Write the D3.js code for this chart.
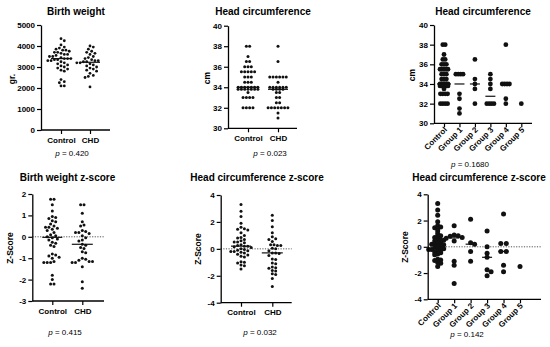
<!DOCTYPE html>
<html><head><meta charset="utf-8">
<script src="https://cdn.jsdelivr.net/npm/d3@7"></script>
<style>body{margin:0;background:#fff}svg{display:block;font-family:"Liberation Sans",Arial,sans-serif}</style>
</head><body><svg id="c" width="550" height="347"></svg>
<script>
// ---------- DATA ----------
const twoCats = ["Control", "CHD"];
const groupCats = ["Control", "Group 1", "Group 2", "Group 3", "Group 4", "Group 5"];

const bwControl = [4350,4250,4050,3950,3900,3850,3800,3800,3750,3700,3700,3650,3600,3600,3550,3500,3500,3450,3400,3400,3400,
  3350,3350,3300,3300,3250,3200,3150,3100,3050,3000,2950,2900,2850,2800,2400,2300,2250,2100,2100];
const bwCHD = [4000,3950,3850,3750,3700,3650,3600,3500,3450,3400,3350,3300,3300,3250,3250,3200,3200,3150,3100,3050,
  3000,2950,2900,2850,2800,2700,2600,2550,2500,2050];

const hcControl = [38,38,37,36.5,36.5,36,36,36,35.5,35.5,35.5,35.5,35.5,35,35,35,34.5,34.5,34.5,
  34,34,34,34,34,34,34,33.8,33.8,33.8,33.8,33.8,33.8,33.8,33.5,33,33,33,33,32,32,32,32];
const hcCHD = [38,36.5,35,35,35,35,35,35,34.5,34,34,34,34,34,34,33.8,33.8,33.8,33.8,33.5,33.5,33,33,
  32.5,32.5,32,32,32,32,32,32,32,31.5,31];
const hcGroup1 = [35,35,35,35,33,32.5,31.5,31];
const hcGroup2 = [36.5,34.5,34,33.5,32];
const hcGroup3 = [35,34.5,34,33.5,32,32,32,32];
const hcGroup4 = [38,34,34,34,34,32.5,32];
const hcGroup5 = [32];

const bwzControl = [1.75,1.75,1.5,1.2,0.95,0.9,0.85,0.75,0.7,0.6,0.5,0.45,0.45,0.4,0.35,0.3,0.2,0.1,0.05,0.0,
  -0.05,-0.1,-0.15,-0.25,-0.3,-0.4,-0.45,-0.8,-0.85,-0.9,-0.95,-1.0,-1.15,-1.2,-1.2,-1.2,-1.8,-2.0,-2.2,-2.2];
const bwzCHD = [1.5,1.5,1.1,0.7,0.55,0.5,0.3,0.25,0.2,0.2,0.15,0.05,-0.05,-0.15,-0.2,-0.35,-0.4,-0.5,-0.55,
  -0.7,-0.75,-1.0,-1.05,-1.1,-1.15,-1.15,-1.2,-1.2,-1.4,-2.1,-2.4];

const hczControl = [3.3,2.8,2.4,1.9,1.6,1.5,1.45,1.4,1.2,1.0,0.85,0.8,0.7,0.6,0.5,0.5,0.45,0.3,0.25,0.2,0.2,
  0.15,0.1,0.0,-0.05,-0.1,-0.15,-0.2,-0.2,-0.25,-0.3,-0.4,-0.45,-0.55,-0.6,-0.95,-1.0,-1.05,-1.2,-1.25,-1.5];
const hczCHD = [2.5,2.1,1.65,1.2,0.9,0.75,0.7,0.55,0.3,0.3,0.25,0.25,0.05,0.0,-0.15,-0.3,-0.3,-0.35,-0.5,
  -0.75,-0.8,-1.05,-1.1,-1.35,-1.4,-1.45,-1.6,-1.65,-1.85,-1.9,-2.2,-2.8];
const hczGroup1 = [1.6,0.9,0.85,0.8,0.7,0.65,0.45,-1.1,-1.4,-2.8];
const hczGroup2 = [2.1,0.3,0.2,-0.35,-1.1];
const hczGroup3 = [1.2,0.0,-0.5,-0.8,-1.75,-1.9,-2.2];
const hczGroup4 = [2.5,0.25,0.25,-0.35,-0.35,-1.4,-1.9];
const hczGroup5 = [-1.5];

const bwTicks = [0,1000,2000,3000,4000,5000];
const hcTicks = [30,32,34,36,38,40];
const bwzTicks = [-3,-2,-1,0,1,2];
const hczTicks = [-4,-2,0,2,4];

// ---------- DRAWING ----------
const svg = d3.select("#c");
const FONT = "Liberation Sans, Arial, sans-serif";

function swarm(vals, y, o) {
  const groups = d3.groups(vals, v => v).sort((a, b) => b[0] - a[0]);
  const placed = [];
  for (const [v, arr] of groups) {
    const n = arr.length, py = y(v);
    const s = n > 1 ? Math.min(o.spacing, o.maxW / (n - 1)) : 0;
    const rel = d3.range(n).map(i => (i - (n - 1) / 2) * s);
    let c = 0;
    for (let k = 0; k < 80; k++) {
      const cand = k === 0 ? 0 : (k % 2 ? 1 : -1) * Math.ceil(k / 2) * o.step;
      const ok = rel.every(r => placed.every(p => {
        const dx = cand + r - p.dx, dy = (py - p.y) * o.ky;
        return dx * dx + dy * dy >= o.d * o.d;
      }));
      if (ok) { c = cand; break; }
    }
    rel.forEach(r => placed.push({ v, y: py, dx: c + r }));
  }
  return placed;
}

function panel(cfg) {
  const g = svg.append("g");
  const y = d3.scaleLinear().domain(cfg.yDomain).range([cfg.yBot, cfg.yTop]);
  const x = d3.scalePoint().domain(cfg.cats).range([cfg.xFirst, cfg.xLast]);

  g.append("text").attr("x", cfg.titleX).attr("y", cfg.titleY).attr("text-anchor", "middle")
    .attr("font-size", 10).attr("font-weight", "bold").text(cfg.title);

  if (cfg.zero) {
    g.append("line").attr("x1", cfg.axisX).attr("x2", cfg.xEnd).attr("y1", y(0)).attr("y2", y(0))
      .attr("stroke", "#555").attr("stroke-width", 1).attr("stroke-dasharray", "1.2,1.4");
  }

  cfg.series.forEach((vals, i) => {
    const cx = x(cfg.cats[i]);
    const sw = (i === 0 && cfg.sw0) ? cfg.sw0 : cfg.sw;
    const pts = swarm(vals, y, sw);
    g.append("g").selectAll("circle").data(pts).join("circle")
      .attr("cx", d => cx + d.dx).attr("cy", d => d.y).attr("r", cfg.r).attr("fill", "#111");
    if (vals.length > 1) {
      const m = d3.median(vals);
      const hw = i === 0 ? cfg.medW0 : cfg.medW;
      g.append("line").attr("x1", cx - hw).attr("x2", cx + hw).attr("y1", y(m)).attr("y2", y(m))
        .attr("stroke", "#111").attr("stroke-width", 1.2);
    }
  });

  const ya = g.append("g").attr("transform", `translate(${cfg.axisX},0)`)
    .call(d3.axisLeft(y).tickValues(cfg.ticks).tickSize(4).tickSizeOuter(0).tickPadding(2).tickFormat(d => String(d)));
  ya.select(".domain").attr("stroke-width", 1.3);
  ya.selectAll(".tick line").attr("stroke-width", 1.2);
  ya.selectAll("text").attr("font-size", 8).attr("font-weight", "bold").attr("font-family", FONT);

  const xa = g.append("g").attr("transform", `translate(0,${cfg.yBot})`)
    .call(d3.axisBottom(x).tickSize(4).tickSizeOuter(0).tickPadding(3));
  xa.select(".domain").attr("d", `M${cfg.axisX},0H${cfg.xEnd}`).attr("stroke-width", 1.3);
  xa.selectAll(".tick line").attr("stroke-width", 1.2);
  const xt = xa.selectAll("text").attr("font-size", 8).attr("font-weight", "bold").attr("font-family", FONT);
  if (cfg.rotate) {
    xt.attr("text-anchor", "end").attr("y", 0).attr("dy", 0).attr("transform", "translate(3,7) rotate(-45)");
  }

  g.append("text").attr("transform", `translate(${cfg.ylabX},${cfg.ylabY}) rotate(-90)`)
    .attr("text-anchor", "middle").attr("dominant-baseline", "central")
    .attr("font-size", 8.5).attr("font-weight", "bold").text(cfg.ylab);

  const p = g.append("text").attr("x", cfg.pX).attr("y", cfg.pY).attr("text-anchor", "middle").attr("font-size", 8);
  p.append("tspan").attr("font-style", "italic").text("p");
  p.append("tspan").text(" = " + cfg.p);
}

const swCont = { spacing: 3.3, maxW: 30, step: 1.65, d: 3.2, ky: 1 };
const swDisc = { spacing: 3.3, maxW: 22, step: 1.65, d: 3.2, ky: 10 };

panel({ title: "Birth weight", titleX: 76, titleY: 15, cats: twoCats, series: [bwControl, bwCHD],
  yDomain: [0, 5000], yBot: 130, yTop: 25, axisX: 41, xEnd: 110, xFirst: 61, xLast: 90, ticks: bwTicks,
  ylab: "gr.", ylabX: 12, ylabY: 79, p: "0.420", pX: 72, pY: 156, r: 1.4, sw: swCont, medW: 10, medW0: 10 });

panel({ title: "Head circumference", titleX: 263, titleY: 15, cats: twoCats, series: [hcControl, hcCHD],
  yDomain: [30, 40], yBot: 128.3, yTop: 25.7, axisX: 228, xEnd: 297, xFirst: 248, xLast: 278, ticks: hcTicks,
  ylab: "cm", ylabX: 207, ylabY: 78, p: "0.023", pX: 270, pY: 156, r: 1.5, sw: swDisc, medW: 10, medW0: 10.5 });

panel({ title: "Head circumference", titleX: 483, titleY: 15, cats: groupCats,
  series: [hcControl, hcGroup1, hcGroup2, hcGroup3, hcGroup4, hcGroup5],
  yDomain: [30, 40], yBot: 123.3, yTop: 25, axisX: 434, xEnd: 532, xFirst: 444, xLast: 521.3, ticks: hcTicks,
  ylab: "cm", ylabX: 412, ylabY: 75, p: "0.1680", pX: 470, pY: 167, r: 2.4, rotate: true,
  sw: { spacing: 2.4, maxW: 8, step: 1.2, d: 4.5, ky: 10 }, medW: 5, medW0: 7 });

panel({ title: "Birth weight z-score", titleX: 67.5, titleY: 181, cats: twoCats, series: [bwzControl, bwzCHD],
  yDomain: [-3, 2], yBot: 301, yTop: 194, axisX: 32.3, xEnd: 104, xFirst: 52.3, xLast: 82.3, ticks: bwzTicks,
  ylab: "Z-Score", ylabX: 9.5, ylabY: 248, p: "0.415", pX: 65, pY: 335, zero: true, r: 1.5,
  sw: { spacing: 3.4, maxW: 30, step: 1.7, d: 3.3, ky: 1 }, medW: 10.5, medW0: 10 });

panel({ title: "Head circumference z-score", titleX: 257, titleY: 181, cats: twoCats, series: [hczControl, hczCHD],
  yDomain: [-4, 4], yBot: 302.7, yTop: 195, axisX: 220.7, xEnd: 291.7, xFirst: 241, xLast: 272.3, ticks: hczTicks,
  ylab: "Z-Score", ylabX: 198.3, ylabY: 249, p: "0.032", pX: 260, pY: 335, zero: true, r: 1.5,
  sw: { spacing: 3.4, maxW: 30, step: 1.7, d: 3.3, ky: 1 }, medW: 10.5, medW0: 10 });

panel({ title: "Head circumference z-score", titleX: 479, titleY: 181, cats: groupCats,
  series: [hczControl, hczGroup1, hczGroup2, hczGroup3, hczGroup4, hczGroup5],
  yDomain: [-4, 4], yBot: 299.3, yTop: 194.3, axisX: 427.7, xEnd: 541, xFirst: 437.7, xLast: 520, ticks: hczTicks,
  ylab: "Z-Score", ylabX: 405, ylabY: 247, p: "0.142", pX: 467, pY: 337, zero: true, r: 2.5, rotate: true,
  sw0: { spacing: 3, maxW: 8, step: 1.5, d: 3, ky: 1.2 },
  sw: { spacing: 5.5, maxW: 12, step: 2, d: 3.6, ky: 1 }, medW: 5, medW0: 7 });
</script></body></html>
